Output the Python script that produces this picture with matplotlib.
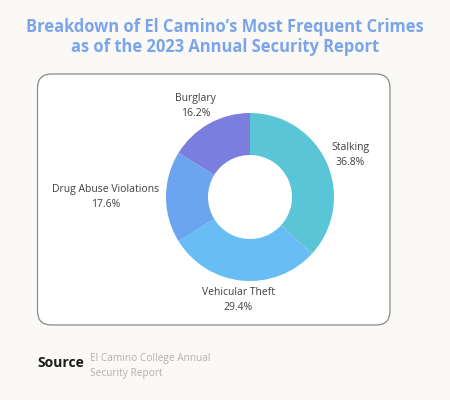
import numpy as np
import matplotlib.pyplot as plt
from matplotlib.patches import FancyBboxPatch

# data
crimes = ["Stalking", "Vehicular Theft", "Drug Abuse Violations", "Burglary"]
shares = [36.8, 29.4, 17.6, 16.2]
colors = ["#5ac5d6", "#67bdf4", "#6ba4ef", "#7a7fdf"]

title = "Breakdown of El Camino\u2019s Most Frequent Crimes\nas of the 2023 Annual Security Report"
source_label = "Source"
source_text = "El Camino College Annual\nSecurity Report"

font = "Open Sans"
bg_color = "#fbf9f6"

fig = plt.figure(figsize=(4.5, 4), dpi=100)
fig.patch.set_facecolor(bg_color)

# background axes in pixel units
bg = fig.add_axes([0, 0, 1, 1])
bg.set_xlim(0, 450)
bg.set_ylim(400, 0)
bg.axis("off")

card = FancyBboxPatch((37.5, 74), 352.5, 251, boxstyle="round,pad=0,rounding_size=14",
                      facecolor="white", edgecolor="#8a8a8a", linewidth=0.9)
bg.add_patch(card)

bg.text(225, 37, title, ha="center", va="center", fontsize=11.9, fontweight="bold",
        color="#7ba4ea", family=font, linespacing=1.1)

# donut
cx, cy, R = 250, 197, 84
ax = fig.add_axes([(cx - R) / 450, (400 - cy - R) / 400, 2 * R / 450, 2 * R / 400])
wedges, _ = ax.pie(shares, colors=colors, startangle=90, counterclock=False,
                   radius=1, wedgeprops=dict(width=0.5, linewidth=0))
ax.set_xlim(-1, 1)
ax.set_ylim(-1, 1)
ax.axis("off")

fig.canvas.draw()
renderer = fig.canvas.get_renderer()
for w, name, val in zip(wedges, crimes, shares):
    mid = np.deg2rad((w.theta1 + w.theta2) / 2)
    ax_x = cx + 1.08 * R * np.cos(mid)
    ax_y = cy - 1.08 * R * np.sin(mid)
    t = bg.text(ax_x, ax_y, f"{name}\n{val:.1f}%", ha="center", va="center",
                fontsize=7.5, color="#404040", family=font, linespacing=1.5,
                multialignment="center")
    bb = t.get_window_extent(renderer)
    hw, hh = bb.width / 2, bb.height / 2
    t.set_position((ax_x + hw * np.cos(mid), ax_y - hh * np.sin(mid)))

bg.text(37, 363, source_label, ha="left", va="center", fontsize=10, fontweight="bold",
        color="#1a1a1a", family=font)
bg.text(90, 366, source_text, ha="left", va="center", fontsize=7.3,
        color="#b3b0ad", family=font, linespacing=1.4)

fig.savefig("out.png", dpi=100, facecolor=bg_color)
